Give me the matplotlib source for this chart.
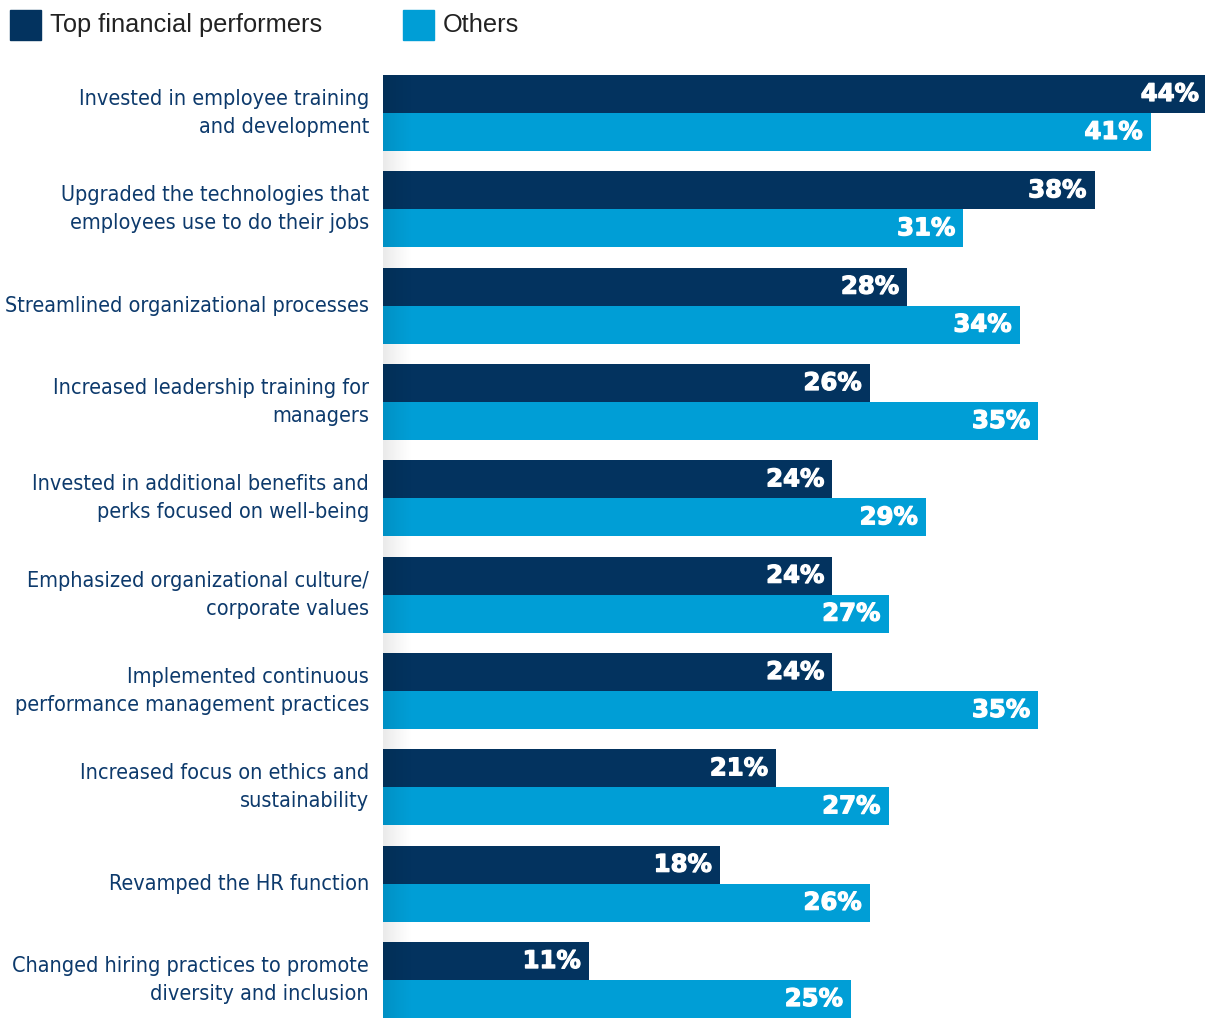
import numpy as np
import matplotlib
matplotlib.use('Agg')
import matplotlib.pyplot as plt
from matplotlib.patches import Rectangle
from matplotlib import font_manager
import matplotlib.patheffects as pe

# ---------------- data ----------------
categories = [
    "Invested in employee training\nand development",
    "Upgraded the technologies that\nemployees use to do their jobs",
    "Streamlined organizational processes",
    "Increased leadership training for\nmanagers",
    "Invested in additional benefits and\nperks focused on well-being",
    "Emphasized organizational culture/\ncorporate values",
    "Implemented continuous\nperformance management practices",
    "Increased focus on ethics and\nsustainability",
    "Revamped the HR function",
    "Changed hiring practices to promote\ndiversity and inclusion",
]
top_performers = [44, 38, 28, 26, 24, 24, 24, 21, 18, 11]
others = [41, 31, 34, 35, 29, 27, 35, 27, 26, 25]
series_names = ["Top financial performers", "Others"]

dark = "#03335f"
light = "#009ed6"
label_col = "#0d3a6c"

# condensed face for the category labels
cond = font_manager.FontProperties(family='DejaVu Sans', stretch='condensed', size=15.5)

W, H = 1205, 1018
fig = plt.figure(figsize=(W / 100, H / 100), dpi=100)

# axes spans from x=383px to right edge, y=75px to bottom
ax = fig.add_axes([383 / W, 0, 1 - 383 / W, (H - 75) / H])

period, h = 96.4, 38.0
n = len(categories)
ypos = np.arange(n) * period
ax.barh(ypos + h / 2, top_performers, height=h, color=dark, zorder=2, clip_on=False)
ax.barh(ypos + 1.5 * h, others, height=h, color=light, zorder=2, clip_on=False)
ax.axis('off')

# soft shadow at the left edge of the bars
grad = np.zeros((1, 64, 4))
grad[..., 3] = np.linspace(0.13, 0.0, 64) ** 1.2
ax.imshow(grad, extent=[0, 1.6, (n - 1) * period + 2 * h, 0], aspect='auto',
          zorder=3, interpolation='bilinear')
ax.set_xlim(0, 43.9)
ax.set_ylim((n - 1) * period + 2 * h, 0)

heavy = [pe.withStroke(linewidth=0.9, foreground='white')]
for i in range(n):
    for v, yc in ((top_performers[i], ypos[i] + h / 2), (others[i], ypos[i] + 1.5 * h)):
        ax.annotate(f"{v}%", (v, yc), xytext=(-6, 0), textcoords='offset points',
                    ha='right', va='center', color='white', fontsize=17.5,
                    fontweight='bold', family='DejaVu Sans', zorder=4,
                    path_effects=heavy, annotation_clip=False)
    ax.annotate(categories[i], (0, ypos[i] + h), xytext=(-10, 0),
                textcoords='offset points', ha='right', va='center',
                color=label_col, fontproperties=cond,
                linespacing=1.5, annotation_clip=False)

# legend
for x0, name, col in ((10, series_names[0], dark), (403, series_names[1], light)):
    fig.patches.append(Rectangle((x0 / W, 1 - 40 / H), 31 / W, 30 / H,
                                 transform=fig.transFigure, color=col))
    fig.text((x0 + 40) / W, 1 - 25 / H, name, ha='left', va='center',
             fontsize=18.3, color='#222222', family='Liberation Sans')

fig.savefig("out.png", dpi=100)
